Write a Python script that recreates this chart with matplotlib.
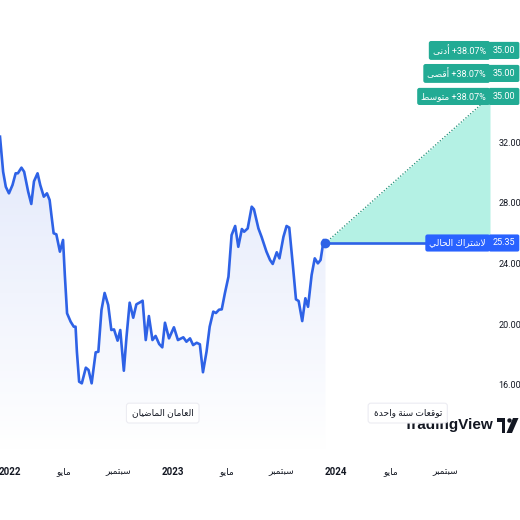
import datetime as dt
import numpy as np
import matplotlib
matplotlib.use("Agg")
import matplotlib.pyplot as plt
import matplotlib.dates as mdates
from matplotlib.colors import LinearSegmentedColormap
from matplotlib.patches import Rectangle, Circle, Polygon

# weekly-ish closes
dates = ["2021-12-10", "2021-12-17", "2021-12-23", "2021-12-30", "2022-01-07", "2022-01-14",
         "2022-01-19", "2022-01-27", "2022-02-02", "2022-02-11", "2022-02-18", "2022-02-24",
         "2022-03-04", "2022-03-10", "2022-03-18", "2022-03-25", "2022-03-31", "2022-04-04",
         "2022-04-09", "2022-04-15", "2022-04-23", "2022-04-30", "2022-05-04", "2022-05-09",
         "2022-05-17", "2022-05-24", "2022-05-28", "2022-05-31", "2022-06-05", "2022-06-11",
         "2022-06-20", "2022-06-26", "2022-07-03", "2022-07-12", "2022-07-18", "2022-07-25",
         "2022-08-01", "2022-08-09", "2022-08-16", "2022-08-22", "2022-08-30", "2022-09-05",
         "2022-09-13", "2022-09-19", "2022-09-26", "2022-10-04", "2022-10-11", "2022-10-19",
         "2022-10-25", "2022-11-01", "2022-11-08", "2022-11-16", "2022-11-23", "2022-12-01",
         "2022-12-08", "2022-12-14", "2022-12-23", "2023-01-03", "2023-01-12", "2023-01-24",
         "2023-01-31", "2023-02-08", "2023-02-15", "2023-02-23", "2023-03-02", "2023-03-09",
         "2023-03-17", "2023-03-24", "2023-04-01", "2023-04-07", "2023-04-14", "2023-04-20",
         "2023-04-27", "2023-05-05", "2023-05-12", "2023-05-20", "2023-05-27", "2023-06-04",
         "2023-06-09", "2023-06-17", "2023-06-26", "2023-07-01", "2023-07-11", "2023-07-18",
         "2023-07-29", "2023-08-06", "2023-08-12", "2023-08-21", "2023-08-27", "2023-09-05",
         "2023-09-12", "2023-09-18", "2023-09-26", "2023-10-03", "2023-10-09", "2023-10-17",
         "2023-10-24", "2023-10-30", "2023-11-07", "2023-11-14", "2023-11-21", "2023-11-27",
         "2023-12-04", "2023-12-08"]
prices = [32.35, 30.04, 29.05, 28.62, 29.17, 29.94,
          29.94, 30.31, 30.04, 28.73, 27.92, 29.41,
          29.94, 29.17, 28.40, 28.62, 28.18, 27.19,
          25.99, 25.92, 24.78, 25.55, 23.24, 20.72,
          20.17, 19.84, 19.84, 18.19, 16.22, 16.11,
          17.14, 16.99, 16.11, 18.15, 18.19, 20.94,
          22.06, 21.27, 19.62, 19.66, 18.92, 19.62,
          16.94, 19.18, 21.42, 20.43, 21.31, 21.44,
          21.55, 18.96, 20.54, 18.96, 19.23, 18.70,
          18.48, 20.10, 19.07, 19.80, 18.96, 19.14,
          18.85, 19.07, 18.63, 18.78, 18.68, 16.84,
          18.20, 19.84, 20.83, 20.74, 20.96, 20.98,
          22.04, 23.13, 25.87, 26.47, 25.10, 26.27,
          26.09, 26.31, 27.74, 27.57, 26.31, 25.76,
          24.78, 24.23, 23.97, 24.74, 24.34, 25.76,
          26.47, 26.36, 23.90, 21.64, 21.53, 20.21,
          21.71, 21.15, 23.24, 24.34, 24.01, 24.23,
          25.55, 25.35]

current = 25.35
forecast_end = "2024-12-10"
target = 35.00          # low, high and average targets are all the same
target_rows = ["أدنى", "أقصى", "متوسط"]
y_ticks = [16, 20, 24, 28, 32]
x_ticks = ["2022-01-01", "2022-05-01", "2022-09-01", "2023-01-01", "2023-05-01",
           "2023-09-01", "2024-01-01", "2024-05-01", "2024-09-01"]
x_labels = ["2022", "مايو", "سبتمبر", "2023", "مايو", "سبتمبر", "2024", "مايو", "سبتمبر"]
past_label = "العامان الماضيان"
future_label = "توقعات سنة واحدة"
current_label = "لاشتراك الحالي"

# --- tiny arabic shaper (matplotlib has no shaping / bidi) ---
FORMS = {
    "ا": ("\ufe8d", "\ufe8e", None, None), "أ": ("\ufe83", "\ufe84", None, None),
    "ب": ("\ufe8f", "\ufe90", "\ufe91", "\ufe92"), "ة": ("\ufe93", "\ufe94", None, None),
    "ت": ("\ufe95", "\ufe96", "\ufe97", "\ufe98"), "ح": ("\ufea1", "\ufea2", "\ufea3", "\ufea4"),
    "د": ("\ufea9", "\ufeaa", None, None), "ر": ("\ufead", "\ufeae", None, None),
    "س": ("\ufeb1", "\ufeb2", "\ufeb3", "\ufeb4"), "ش": ("\ufeb5", "\ufeb6", "\ufeb7", "\ufeb8"),
    "ص": ("\ufeb9", "\ufeba", "\ufebb", "\ufebc"), "ض": ("\ufebd", "\ufebe", "\ufebf", "\ufec0"),
    "ط": ("\ufec1", "\ufec2", "\ufec3", "\ufec4"), "ع": ("\ufec9", "\ufeca", "\ufecb", "\ufecc"),
    "ق": ("\ufed5", "\ufed6", "\ufed7", "\ufed8"), "ك": ("\ufed9", "\ufeda", "\ufedb", "\ufedc"),
    "ل": ("\ufedd", "\ufede", "\ufedf", "\ufee0"), "م": ("\ufee1", "\ufee2", "\ufee3", "\ufee4"),
    "ن": ("\ufee5", "\ufee6", "\ufee7", "\ufee8"), "و": ("\ufeed", "\ufeee", None, None),
    "ى": ("\ufeef", "\ufef0", None, None), "ي": ("\ufef1", "\ufef2", "\ufef3", "\ufef4"),
}
LAM_ALEF = {"ا": ("\ufefb", "\ufefc"), "أ": ("\ufef7", "\ufef8")}


def fwd(c):
    return c in FORMS and FORMS[c][2] is not None


def ar(word):
    if not any(c in FORMS for c in word):
        return word
    out, prev, i = [], None, 0
    while i < len(word):
        c = word[i]
        if c not in FORMS:
            out.append(c); prev = c; i += 1
            continue
        jp = prev is not None and fwd(prev)
        if c == "ل" and i + 1 < len(word) and word[i + 1] in LAM_ALEF:
            out.append(LAM_ALEF[word[i + 1]][1 if jp else 0])
            prev = word[i + 1]; i += 2
            continue
        nxt = word[i + 1] if i + 1 < len(word) else None
        jn = fwd(c) and nxt in FORMS
        iso, fin, ini, med = FORMS[c]
        out.append(med if (jp and jn) else fin if jp else ini if jn else iso)
        prev = c; i += 1
    return "".join(reversed(out))


FONT = ["Roboto", "DejaVu Sans"]
BLUE = "#2962ff"
LINE = "#2e62e6"
TEAL = "#22ab94"
MINT = "#b4f1e4"
INK = "#131722"

d = mdates.date2num([dt.date.fromisoformat(s) for s in dates])
d_end = mdates.date2num(dt.date.fromisoformat(forecast_end))
y0, y1 = 11.72, 41.35

fig = plt.figure(figsize=(5.2, 5.2), dpi=100)
ax = fig.add_axes([0, 70 / 520, 490 / 520, 450 / 520])
for s in ax.spines.values():
    s.set_visible(False)

# gradient area under the history line
poly = ax.fill_between(d, prices, y0, color="none", lw=0)
cmap = LinearSegmentedColormap.from_list("g", ["#ffffff", "#e3e9fb"])
im = ax.imshow(np.linspace(1, 0, 256).reshape(-1, 1), cmap=cmap, aspect="auto",
               extent=[d[0], d[-1], y0, max(prices)], zorder=1)
im.set_clip_path(poly.get_paths()[0], transform=ax.transData)
ax.set_xlim(d[0], d_end)
ax.set_ylim(y0, y1)

ax.plot(d, prices, color=LINE, lw=1.9, zorder=4, solid_joinstyle="round")

# forecast cone
ax.fill_between([d[-1], d_end], [current, current], [current, target], color=MINT, lw=0, zorder=2)
ax.plot([d[-1], d_end], [current, target], color="#1f8f77", lw=0.9, ls=(0, (1, 1.5)), zorder=3)
ax.plot([d[-1], d_end], [current, current], color=LINE, lw=1.9, zorder=4)
ax.plot(d[-1], current, "o", color=LINE, ms=6, zorder=5)

# axes ticks
ax.yaxis.tick_right()
ax.set_yticks(y_ticks)
ax.set_yticklabels([f"{v:.2f}" for v in y_ticks], family=FONT, fontsize=6.5, color=INK)
ax.set_xticks(mdates.date2num([dt.date.fromisoformat(s) for s in x_ticks]))
ax.set_xticklabels([ar(s) for s in x_labels], family=FONT, fontsize=6.5, color=INK)
for lb, s in zip(ax.get_xticklabels(), x_labels):
    if s.isdigit():
        lb.set_fontweight("bold")
        lb.set_fontsize(7)
ax.tick_params(axis="y", length=0, pad=6)
ax.tick_params(axis="x", length=0, pad=12)

# target labels stacked above the 35.00 level
pct = f"{(target / current - 1) * 100:+.2f}%"
for k, name in enumerate(reversed(target_rows)):
    dy = 23 * k
    ax.annotate(ar(name) + " " + pct, xy=(1, target), xycoords=("axes fraction", "data"),
                xytext=(-4, dy), textcoords="offset pixels", ha="right", va="center",
                family=FONT, fontsize=6.5, color="white", zorder=10,
                bbox=dict(boxstyle="round,pad=0.45,rounding_size=0.25", fc=TEAL, ec="none"))
    ax.annotate(f"{target:.2f}", xy=(1, target), xycoords=("axes fraction", "data"),
                xytext=(14, dy), textcoords="offset pixels", ha="center", va="center",
                family=FONT, fontsize=6.5, color="white", zorder=10, annotation_clip=False,
                bbox=dict(boxstyle="round,pad=0.45,rounding_size=0.2", fc=TEAL, ec="none"))

# current price label
ax.annotate(ar(current_label), xy=(1, current), xycoords=("axes fraction", "data"),
            xytext=(-4, 0), textcoords="offset pixels", ha="right", va="center",
            family=FONT, fontsize=6.5, color="white", zorder=10,
            bbox=dict(boxstyle="round,pad=0.45,rounding_size=0.25", fc=BLUE, ec="none"))
ax.annotate(f"{current:.2f}", xy=(1, current), xycoords=("axes fraction", "data"),
            xytext=(14, 0), textcoords="offset pixels", ha="center", va="center",
            family=FONT, fontsize=6.5, color="white", zorder=10, annotation_clip=False,
            bbox=dict(boxstyle="round,pad=0.45,rounding_size=0.2", fc=BLUE, ec="none"))

# watermark text + logo
ax.text(494 / 490, 0.056, "TradingView", transform=ax.transAxes, ha="right", va="center",
        family="Liberation Sans", fontweight="bold", fontsize=11, color=INK, zorder=6)


def px(x, y):
    return (x / 520, 1 - y / 520)


for art in [Rectangle(px(497, 422), 8 / 520, 4 / 520),
            Rectangle(px(501.5, 433), 3.5 / 520, 15 / 520),
            Circle(px(509.5, 420.5), 2.2 / 520),
            Polygon([px(513, 418), px(518.5, 418), px(512, 433), px(506.5, 433)])]:
    art.set_transform(fig.transFigure)
    art.set_facecolor(INK)
    art.set_edgecolor("none")
    fig.add_artist(art)

# period labels
for txt, xc in [(past_label, (d[0] + d[-1]) / 2), (future_label, (d[-1] + d_end) / 2)]:
    ax.text(xc, 0.082, ar(txt), transform=ax.get_xaxis_transform(), ha="center", va="center",
            family=FONT, fontsize=6.5, color=INK, zorder=8,
            bbox=dict(boxstyle="round,pad=0.6,rounding_size=0.3", fc="white", ec="#ececf2", lw=0.8))

fig.savefig("out.png", dpi=100)
